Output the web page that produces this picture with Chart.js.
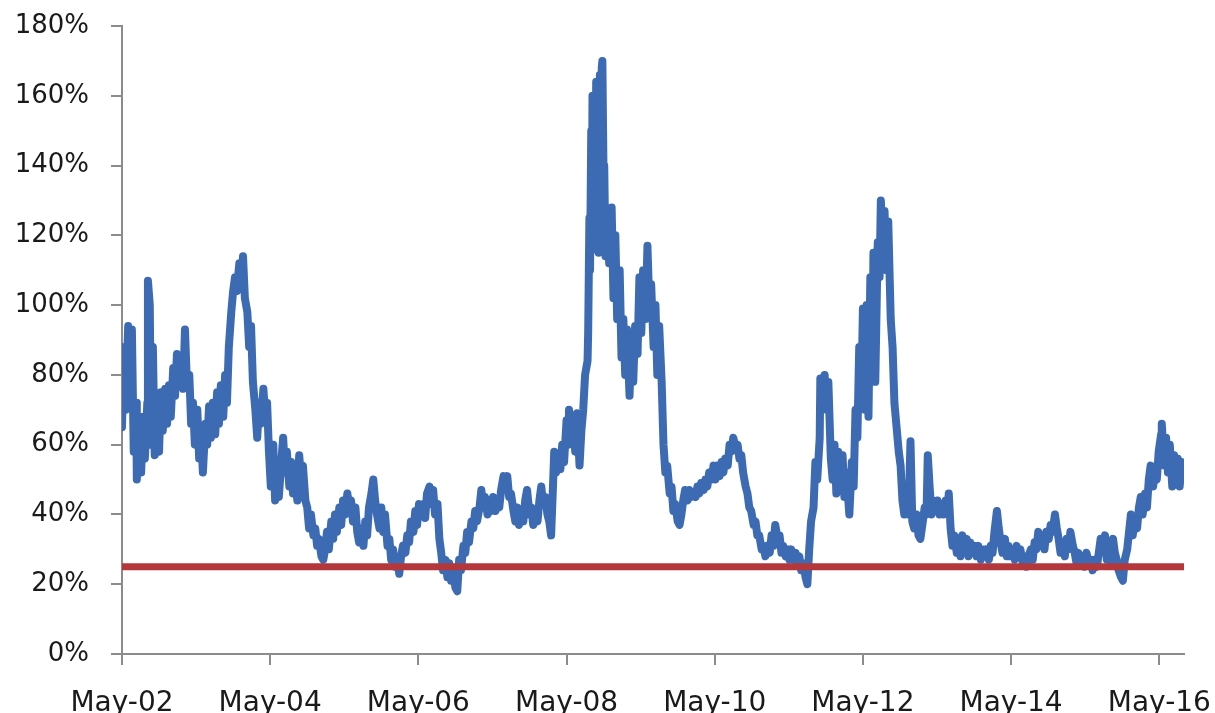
<!DOCTYPE html>
<html>
<head>
<meta charset="utf-8">
<script src="https://cdn.jsdelivr.net/npm/chart.js@4"></script>
<style>
  html, body { margin: 0; padding: 0; background: #fff; overflow: hidden; }
  #wrap { width: 1215px; height: 713px; }
</style>
</head>
<body>
<div id="wrap"><canvas id="volChart"></canvas></div>
<script>
// x = months since May-02, y = volatility in %
const vol2002_04 = [[0,65],[0.3,88],[0.6,70],[1.0,94],[1.3,78],[1.6,93],[1.9,58],[2.3,72],[2.4,50],[2.8,66],[3.1,52],[3.4,68],[3.7,56],[4.1,72],[4.2,107],[4.5,100],[4.7,60],[5.0,88],[5.3,57],[5.7,70],[6.0,58],[6.3,75],[6.6,64],[7.0,76],[7.3,66],[7.6,77],[7.9,68],[8.3,82],[8.6,74],[8.9,86],[9.2,78],[9.6,82],[9.9,76],[10.2,93],[10.5,78],[10.9,80],[11.2,66],[11.5,72],[11.8,60],[12.2,70],[12.5,56],[12.8,64],[13.1,52],[13.5,66],[13.8,60],[14.1,71],[14.4,62],[14.7,72],[15.1,63],[15.4,75],[15.7,66],[16.0,77],[16.4,68],[16.7,80],[17.0,72],[17.3,88],[17.7,98],[18.0,104],[18.3,108],[18.6,104],[19.0,112],[19.3,106],[19.6,114],[19.9,102],[20.3,98],[20.6,88],[20.9,94],[21.2,78],[21.6,70],[21.9,62],[22.2,72],[22.5,66],[22.9,76],[23.2,68],[23.5,72],[23.8,58]];
const vol2004_06 = [[24.1,48],[24.5,60],[24.8,44],[25.1,50],[25.4,45],[25.8,55],[26.1,62],[26.4,52],[26.7,58],[27.1,48],[27.4,55],[27.7,46],[28.0,50],[28.4,44],[28.7,57],[29.0,50],[29.3,54],[29.7,44],[30.0,42],[30.3,36],[30.6,40],[31.0,34],[31.3,36],[31.6,31],[31.9,33],[32.3,28],[32.6,27],[32.9,30],[33.2,35],[33.5,30],[33.9,38],[34.2,33],[34.5,40],[34.8,35],[35.2,42],[35.5,37],[35.8,44],[36.1,40],[36.5,46],[36.8,42],[37.1,44],[37.4,38],[37.8,42],[38.1,35],[38.4,32],[38.7,36],[39.1,31],[39.4,38],[39.7,34],[40.0,42],[40.4,46],[40.7,50],[41.0,44],[41.3,40],[41.7,36],[42.0,42],[42.3,35],[42.6,40],[43.0,31],[43.3,33],[43.6,27],[43.9,30],[44.2,25],[44.6,27],[44.9,23],[45.2,28],[45.5,31],[45.9,29],[46.2,34],[46.5,32],[46.8,38],[47.2,35],[47.5,41],[47.8,37],[48.1,43]];
const vol2006_08 = [[48.5,40],[48.8,43],[49.1,39],[49.4,46],[49.8,48],[50.1,43],[50.4,47],[50.7,40],[51.1,43],[51.4,33],[51.7,29],[52.0,24],[52.4,27],[52.7,22],[53.0,26],[53.3,21],[53.6,24],[54.0,19],[54.3,18],[54.6,27],[54.9,24],[55.3,31],[55.6,29],[55.9,35],[56.2,32],[56.6,38],[56.9,36],[57.2,41],[57.5,38],[57.9,42],[58.2,47],[58.5,42],[58.8,45],[59.2,40],[59.5,44],[59.8,41],[60.1,45],[60.5,41],[60.8,44],[61.1,42],[61.4,47],[61.8,51],[62.1,48],[62.4,51],[62.7,45],[63.0,46],[63.4,41],[63.7,38],[64.0,42],[64.3,37],[64.7,41],[65.0,38],[65.3,44],[65.6,47],[66.0,40],[66.3,42],[66.6,37],[66.9,41],[67.3,38],[67.6,44],[67.9,48],[68.2,43],[68.6,45],[68.9,40],[69.2,38],[69.5,34],[69.8,48],[70.0,58],[70.3,52],[70.7,56],[71.0,53],[71.3,60],[71.6,55],[72.0,67]];
const vol2008_10 = [[72.3,60],[72.4,70],[72.8,62],[73.1,68],[73.4,58],[73.7,69],[74.1,54],[74.4,64],[74.7,70],[75.0,80],[75.4,84],[75.5,92],[75.7,125],[75.8,110],[76.0,150],[76.1,118],[76.2,160],[76.4,116],[76.5,158],[76.6,120],[76.8,164],[76.9,116],[77.1,162],[77.2,115],[77.4,166],[77.5,120],[77.7,168],[77.8,170],[78.0,135],[78.1,140],[78.3,114],[78.6,126],[78.9,112],[79.3,128],[79.6,102],[79.9,120],[80.2,96],[80.6,110],[80.9,85],[81.2,96],[81.5,80],[81.8,93],[82.2,74],[82.5,90],[82.8,78],[83.1,94],[83.5,86],[83.8,108],[84.1,92],[84.4,110],[84.8,96],[85.1,117],[85.4,100],[85.7,106],[86.1,88],[86.4,100],[86.7,80],[87.0,94],[87.4,78],[87.7,60],[88.0,52],[88.3,54],[88.7,46],[89.0,48],[89.3,41],[89.6,43],[90.0,38],[90.3,37],[90.6,40],[90.9,44],[91.2,47],[91.6,44],[91.9,47],[92.2,45],[92.5,46],[92.9,45],[93.2,48],[93.5,46],[93.8,49],[94.2,47],[94.5,50],[94.8,48],[95.1,52],[95.5,50],[95.8,54]];
const vol2010_12 = [[96.1,50],[96.4,54],[96.8,51],[97.1,55],[97.4,52],[97.7,56],[98.1,54],[98.4,60],[98.7,58],[99.0,62],[99.4,59],[99.7,60],[100.0,56],[100.3,57],[100.6,52],[101.0,48],[101.3,46],[101.6,42],[101.9,41],[102.3,37],[102.6,38],[102.9,34],[103.2,34],[103.6,30],[103.9,31],[104.2,28],[104.5,31],[104.9,29],[105.2,34],[105.5,31],[105.8,37],[106.2,33],[106.5,34],[106.8,29],[107.1,31],[107.5,28],[107.8,30],[108.1,27],[108.4,30],[108.8,27],[109.1,29],[109.4,26],[109.7,28],[110.0,24],[110.4,26],[110.7,22],[111.0,20],[111.3,30],[111.6,38],[112.0,42],[112.3,55],[112.6,50],[113.0,62],[113.1,79],[113.5,72],[113.8,80],[114.1,70],[114.4,78],[114.8,56],[115.1,50],[115.4,60],[115.7,46],[116.0,58],[116.4,48],[116.7,57],[117.0,45],[117.3,52],[117.8,40],[118.2,55],[118.5,48],[118.8,70],[119.1,62],[119.4,88],[119.8,80],[120.0,99]];
const vol2012_14 = [[120.3,70],[120.6,100],[120.9,68],[121.2,108],[121.6,95],[121.7,115],[122.0,78],[122.4,118],[122.7,108],[122.9,130],[123.2,118],[123.5,127],[123.8,110],[124.1,124],[124.5,96],[124.8,88],[125.1,72],[125.4,66],[125.8,58],[126.1,54],[126.4,44],[126.7,40],[127.0,43],[127.4,40],[127.7,61],[128.0,38],[128.3,36],[128.7,40],[129.0,34],[129.3,33],[129.7,38],[130.0,42],[130.3,40],[130.5,57],[130.8,48],[131.1,40],[131.4,44],[131.8,41],[132.1,44],[132.4,40],[132.7,43],[133.1,40],[133.4,44],[133.7,40],[133.9,46],[134.2,36],[134.5,31],[134.8,34],[135.2,29],[135.5,33],[135.8,28],[136.1,34],[136.5,30],[136.8,33],[137.1,28],[137.4,32],[137.8,29],[138.1,31],[138.4,28],[138.7,31],[139.1,27],[139.4,30],[139.7,28],[140.0,30],[140.4,27],[140.7,31],[141.0,29],[141.3,35],[141.7,41],[142.0,36],[142.3,32],[142.6,29],[143.0,33],[143.3,28]];
const vol2014_16 = [[143.6,31],[143.9,28],[144.2,30],[144.6,27],[144.9,31],[145.2,28],[145.5,30],[145.9,26],[146.2,28],[146.5,25],[146.8,28],[147.2,30],[147.5,27],[147.8,32],[148.1,30],[148.4,35],[148.8,31],[149.1,34],[149.4,30],[149.7,35],[150.1,33],[150.4,37],[150.7,35],[151.1,40],[151.4,36],[151.7,33],[152.0,29],[152.4,31],[152.7,28],[153.0,33],[153.3,30],[153.6,35],[154.0,31],[154.3,29],[154.6,26],[154.9,29],[155.3,26],[155.6,28],[155.9,25],[156.2,29],[156.6,26],[156.9,27],[157.2,24],[157.5,27],[157.9,25],[158.2,29],[158.5,33],[158.8,30],[159.2,34],[159.5,27],[159.8,30],[160.1,26],[160.5,33],[160.8,29],[161.1,27],[161.4,24],[161.8,22],[162.1,21],[162.4,27],[162.8,30],[163.1,35],[163.4,40],[163.7,34],[164.0,39],[164.4,36],[164.7,42],[165.0,45],[165.3,40],[165.7,46],[166.0,42],[166.3,50],[166.6,54],[167.0,48],[167.3,52],[167.6,50],[167.9,58],[168.3,63],[168.4,66],[168.8,54],[169.1,62],[169.4,52],[169.7,60],[170.1,48],[170.4,57],[170.7,49],[171.0,56],[171.3,48],[171.6,55]];

const floorLevel = 25;
const xRange = [0, 172];
const tickMonths = [0, 24, 48, 72, 96, 120, 144, 168];
const tickLabels = ["May-02", "May-04", "May-06", "May-08", "May-10", "May-12", "May-14", "May-16"];

const series = [].concat(vol2002_04, vol2004_06, vol2006_08, vol2008_10, vol2010_12, vol2012_14, vol2014_16)
  .map(([m, v]) => ({ x: m, y: v }));

const axisGrey = "#8c8c8c";

new Chart(document.getElementById("volChart").getContext("2d"), {
  type: "line",
  data: {
    datasets: [
      {
        label: "Floor",
        data: xRange.map((m) => ({ x: m, y: floorLevel })),
        borderColor: "#b4373b",
        borderWidth: 7,
        pointRadius: 0,
        borderCapStyle: "butt",
      },
      {
        label: "Volatility",
        data: series,
        borderColor: "#3d6bb3",
        borderWidth: 8,
        pointRadius: 0,
        tension: 0,
        borderJoinStyle: "round",
        borderCapStyle: "round",
      },
    ],
  },
  options: {
    responsive: true,
    maintainAspectRatio: false,
    animation: false,
    layout: { padding: { top: 26, right: 31, left: 0, bottom: 0 } },
    plugins: {
      legend: { display: false },
      tooltip: { enabled: false },
    },
    scales: {
      x: {
        type: "linear",
        min: xRange[0],
        max: xRange[1],
        afterFit: (scale) => {
          scale.height = 59;
          scale.paddingLeft = 0;
          scale.paddingRight = 0;
        },
        afterBuildTicks: (scale) => { scale.ticks = tickMonths.map((v) => ({ value: v })); },
        grid: { drawOnChartArea: false, drawTicks: true, tickLength: 11, color: axisGrey, lineWidth: 2 },
        border: { display: true, color: axisGrey, width: 2 },
        ticks: {
          padding: 22,
          maxRotation: 0,
          autoSkip: false,
          color: "#1a1a1a",
          font: { family: "DejaVu Sans", size: 28 },
          callback: (v) => tickLabels[tickMonths.indexOf(v)],
        },
      },
      y: {
        min: 0,
        max: 180,
        afterFit: (scale) => {
          scale.width = 122;
          scale.paddingTop = 0;
          scale.paddingBottom = 0;
        },
        grid: { drawOnChartArea: false, drawTicks: true, tickLength: 11, color: axisGrey, lineWidth: 2 },
        border: { display: true, color: axisGrey, width: 2 },
        ticks: {
          stepSize: 20,
          padding: 22,
          color: "#1a1a1a",
          font: { family: "DejaVu Sans", size: 26 },
          callback: (v) => v + "%",
        },
      },
    },
  },
});
</script>
</body>
</html>
